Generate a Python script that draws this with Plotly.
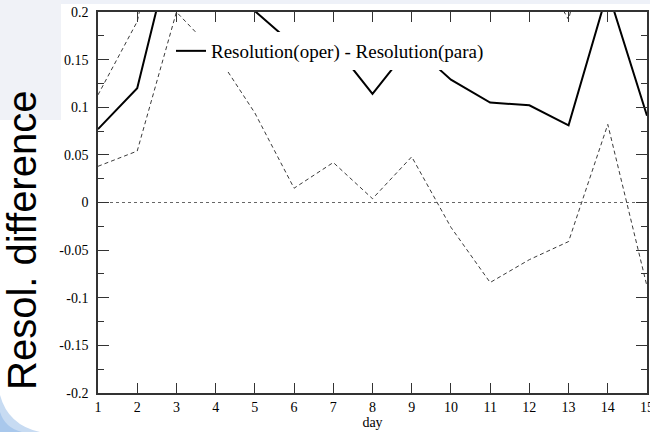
import plotly.graph_objects as go

# ---- data ----
days = list(range(1, 16))
resol_diff = [0.077, 0.120, 0.287, 0.250, 0.201, 0.165, 0.166, 0.114,
              0.166, 0.129, 0.105, 0.102, 0.081, 0.222, 0.091]
lower_bound = [0.038, 0.054, 0.200, 0.157, 0.094, 0.015, 0.042, 0.004,
               0.048, -0.026, -0.084, -0.060, -0.041, 0.082, -0.088]
upper_bound = [0.113, 0.190, 0.374, 0.343, 0.306, 0.315, 0.290, 0.224,
               0.284, 0.284, 0.294, 0.264, 0.192, 0.362, 0.270]
y_ticks = [-0.2, -0.15, -0.1, -0.05, 0, 0.05, 0.1, 0.15, 0.2]
y_tick_labels = ["-0.2", "-0.15", "-0.1", "-0.05", "0", "0.05", "0.1", "0.15", "0.2"]
legend_label = "Resolution(oper) - Resolution(para)"
x_title = "day"
y_title = "Resol. difference"

W, H = 650, 432
ML, MR, MT, MB = 98, 3, 12, 39
PW, PH = W - ML - MR, H - MT - MB

def px_x(p):
    return (p - ML) / PW

def px_y(p):
    return (H - MB - p) / PH

SERIF = "Liberation Serif, Times New Roman, serif"
SANS = "Liberation Sans, Arial, sans-serif"

fig = go.Figure()
fig.add_trace(go.Scatter(x=days, y=upper_bound, mode="lines", showlegend=False,
                         line=dict(color="#3a3a3a", width=1, dash="4px,3px")))
fig.add_trace(go.Scatter(x=days, y=lower_bound, mode="lines", showlegend=False,
                         line=dict(color="#3a3a3a", width=1, dash="4px,3px")))
fig.add_trace(go.Scatter(x=days, y=resol_diff, mode="lines", name=legend_label,
                         line=dict(color="black", width=2)))

shapes = [
    # slide background pieces
    dict(type="rect", xref="paper", yref="paper", layer="below",
         x0=px_x(0), x1=px_x(W), y0=px_y(4), y1=px_y(0),
         fillcolor="#eef1f8", line=dict(width=0)),
    dict(type="rect", xref="paper", yref="paper", layer="below",
         x0=px_x(0), x1=px_x(61), y0=px_y(120), y1=px_y(0),
         fillcolor="#f0f2f7", line=dict(width=0)),
    dict(type="path", xref="paper", yref="paper", layer="below",
         path=("M {a},{b} Q {c},{d} {e},{f} L {g},{f} L {g},{b} Z").format(
             a=px_x(0), b=px_y(395), c=px_x(8), d=px_y(425), e=px_x(40), f=px_y(432), g=px_x(0)),
         fillcolor="#c7dbf2", line=dict(width=0)),
    dict(type="path", xref="paper", yref="paper", layer="below",
         path=("M {a},{b} Q {c},{d} {e},{f} L {g},{f} L {g},{b} Z").format(
             a=px_x(0), b=px_y(412), c=px_x(5), d=px_y(428), e=px_x(22), f=px_y(432), g=px_x(0)),
         fillcolor="#a9c8ec", line=dict(width=0)),
    # zero reference line
    dict(type="line", xref="x domain", yref="y", x0=0, x1=1, y0=0, y1=0,
         line=dict(color="#666666", width=1, dash="dot"), layer="below"),
]

fig.update_layout(
    width=W, height=H,
    margin=dict(l=ML, r=MR, t=MT, b=MB, autoexpand=False),
    paper_bgcolor="white", plot_bgcolor="white",
    shapes=shapes,
    showlegend=True,
    legend=dict(x=px_x(171), y=px_y(32), xanchor="left", yanchor="top",
                bgcolor="white", borderwidth=0,
                font=dict(family=SERIF, size=19, color="black")),
    xaxis=dict(range=[1, 15], tickmode="array", tickvals=days, automargin=False,
               ticks="inside", ticklen=10, tickwidth=1, tickcolor="#333333",
               showline=True, linecolor="#333333", linewidth=1.5, mirror="ticks",
               showgrid=False, zeroline=False, ticklabeloverflow="allow",
               tickfont=dict(family=SERIF, size=14, color="black"),
               title=dict(text=x_title, font=dict(family=SERIF, size=14, color="black"),
                          standoff=0)),
    yaxis=dict(range=[-0.2, 0.2], tickmode="array", tickvals=y_ticks, ticktext=y_tick_labels,
               automargin=False,
               ticks="inside", ticklen=11, tickwidth=1, tickcolor="#333333",
               minor=dict(ticks="inside", ticklen=6, dtick=0.025, tickcolor="#333333", showgrid=False),
               showline=True, linecolor="#333333", linewidth=1.5, mirror="ticks",
               showgrid=False, zeroline=False, ticklabelstandoff=5,
               tickfont=dict(family=SERIF, size=14, color="black")),
    annotations=[dict(text=y_title, textangle=-90, xref="paper", yref="paper",
                      x=px_x(22), y=px_y(241), xanchor="center", yanchor="middle",
                      showarrow=False, font=dict(family=SANS, size=40, color="black"))],
)

fig.write_html("out.html")
